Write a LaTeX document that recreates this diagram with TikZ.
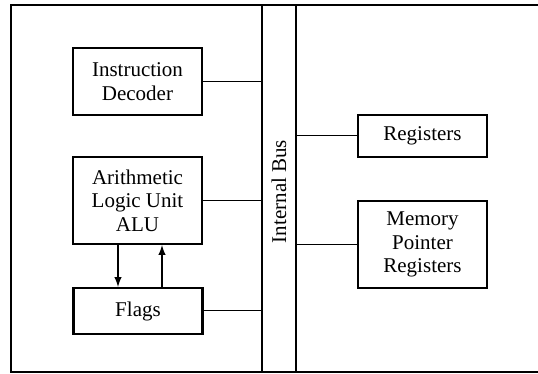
\documentclass[tikz,border=0pt]{standalone}
\usepackage{fontspec}
\setmainfont{Liberation Serif}
\usepackage{tikz}
\usetikzlibrary{arrows,calc}

\begin{document}
\begin{tikzpicture}[x=0.5pt,y=-0.5pt,
  unitbox/.style={draw,line width=1.1pt,minimum width=64.5pt,align=center,
    font=\fontsize{10.5}{11.8}\selectfont},
  wire/.style={line width=0.5pt},
  frame/.style={line width=0.8pt}]
\useasboundingbox (0,0) rectangle (538,374);
% outer frame, open on the right
\draw[frame] (538,5) -- (11,5) -- (11,372) -- (538,372);
\node[draw,frame,minimum width=17pt,minimum height=183.5pt,inner sep=0pt] (bus) at (279,188.5) {};
\node[rotate=90,font=\fontsize{10.5}{11.8}\selectfont] (buslabel) at (279,191.5) {Internal Bus};
% units on the left
\node[unitbox,minimum height=33.5pt] (decoder) at (137.5,81.5) {Instruction\\Decoder};
\node[unitbox,minimum height=43.5pt] (alu) at (137.5,200.5) {Arithmetic\\Logic Unit\\ALU};
\node[unitbox,minimum height=23pt] (flags) at (138,311) {Flags};
% units on the right
\node[unitbox,minimum height=21pt] (regs) at (422.5,136) {Registers};
\node[unitbox,minimum height=43.5pt] (mempt) at (422.5,244.5) {Memory\\Pointer\\Registers};
% bus connections
\draw[wire] (decoder.east) -- (decoder.east -| bus.west);
\draw[wire] (alu.east) -- (alu.east -| bus.west);
\draw[wire] (flags.east) -- (flags.east -| bus.west);
\draw[wire] (regs.west) -- (regs.west -| bus.east);
\draw[wire] (mempt.west) -- (mempt.west -| bus.east);
% alu <-> flags
\draw[line width=0.7pt,-latex] ([xshift=-9.75pt]alu.south) -- ([xshift=-9.75pt]alu.south |- flags.north);
\draw[line width=0.7pt,-latex] ([xshift=12.25pt]alu.south |- flags.north) -- ([xshift=12.25pt]alu.south);
\end{tikzpicture}
\end{document}
